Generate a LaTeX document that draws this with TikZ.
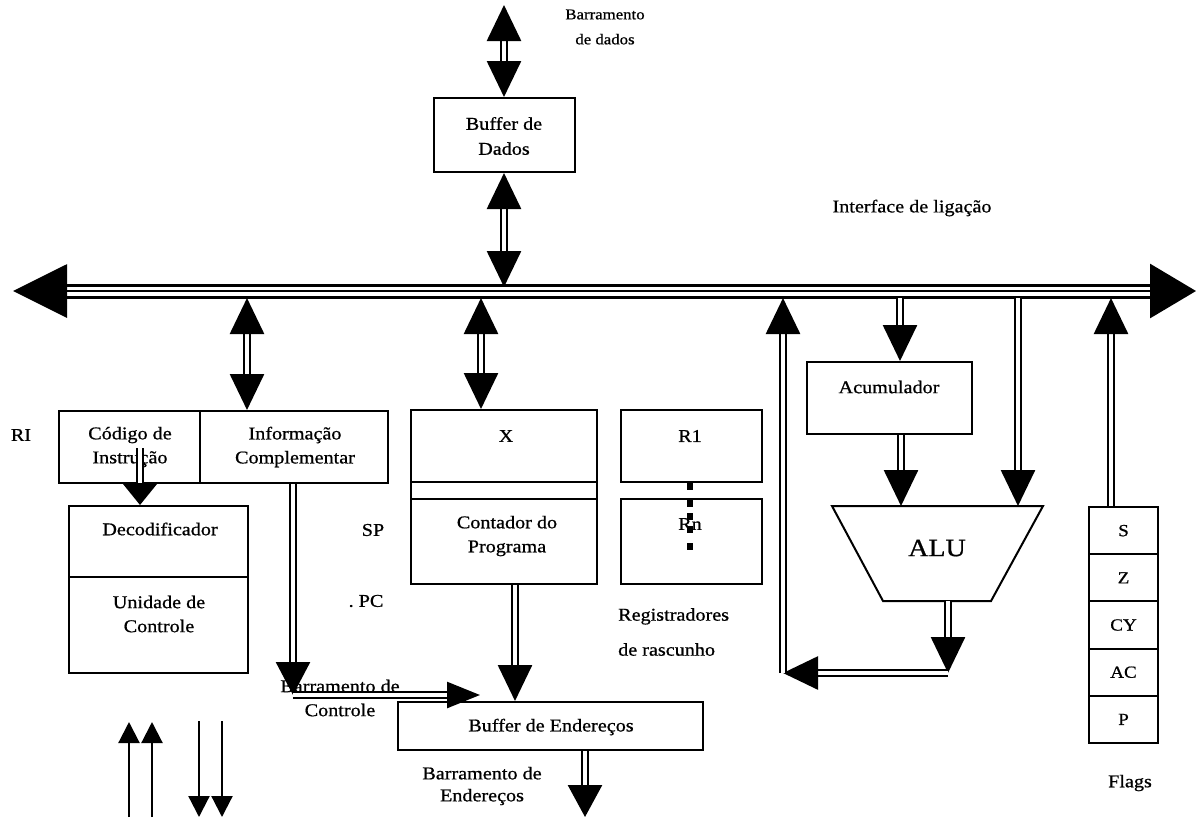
\documentclass[tikz,border=0pt]{standalone}
\usepackage{fontspec}
\setmainfont{Liberation Serif}[FakeStretch=1.12,FakeBold=0.8]
\usetikzlibrary{arrows.meta}
\begin{document}
\begin{tikzpicture}[x=1pt,y=-1pt,
  box/.style={draw,line width=2pt,inner sep=0pt},
  txt/.style={font=\fontsize{18}{24}\selectfont,align=center,inner sep=0pt},
  smtxt/.style={font=\fontsize{15}{25}\selectfont,align=center,inner sep=0pt},
  flagtxt/.style={font=\fontsize{17}{20}\selectfont},
  dl/.style={double,double distance=3.2pt,line width=2.6pt},
  bus/.style={double,double distance=9pt,line width=3pt},
  tipu/.style={-{Triangle[length=36pt,width=34pt]}},
  tipb/.style={{Triangle[length=36pt,width=34pt]}-{Triangle[length=36pt,width=34pt]}},
  thinarr/.style={line width=2.2pt,-{Triangle[length=21pt,width=21pt]}}
]
\fill[white] (0,0) rectangle (1198,820);
\useasboundingbox (0,0) rectangle (1198,820);

% ---------- bus ----------
\coordinate (busL) at (13,291);
\coordinate (busR) at (1196,291);
\draw[bus,{Triangle[length=54pt,width=53pt]}-{Triangle[length=46pt,width=54pt]}] (busL) -- (busR);
\draw[line width=2pt] (66,291) -- (1150,291);

\coordinate (tRI) at (247,298);
\coordinate (tX) at (481,298);
\coordinate (tBD) at (504,287);
\coordinate (tLoop) at (783,298);
\coordinate (tAcc) at (900,298);
\coordinate (tAlu) at (1018,298);
\coordinate (tFl) at (1111,298);

% ---------- boxes ----------
\node[box,minimum width=141,minimum height=74] (bdad) at (504,135) {};
\node[box,minimum width=141,minimum height=72] (cod) at (129.5,447) {};
\node[box,minimum width=188,minimum height=72] (inf) at (294,447) {};
\node[box,minimum width=179,minimum height=71] (dec) at (158.5,541.5) {};
\node[box,minimum width=179,minimum height=96] (uc) at (158.5,625) {};
\node[box,minimum width=186,minimum height=72] (xr) at (504,446) {};
\node[box,minimum width=186,minimum height=17] (xs) at (504,490.5) {};
\node[box,minimum width=186,minimum height=85] (pc) at (504,541.5) {};
\node[box,minimum width=141,minimum height=72] (r1) at (691.5,446) {};
\node[box,minimum width=141,minimum height=85] (rn) at (691.5,541.5) {};
\node[box,minimum width=165,minimum height=72] (acc) at (889.5,398) {};
\node[box,minimum width=305,minimum height=48] (bend) at (550.5,726) {};

\node[box,flagtxt,minimum width=69,minimum height=47.2] (fS) at (1123.5,530.6) {S};
\node[box,flagtxt,minimum width=69,minimum height=47.2] (fZ) at (1123.5,577.8) {Z};
\node[box,flagtxt,minimum width=69,minimum height=47.2] (fCY) at (1123.5,625) {CY};
\node[box,flagtxt,minimum width=69,minimum height=47.2] (fAC) at (1123.5,672.2) {AC};
\node[box,flagtxt,minimum width=69,minimum height=47.2] (fP) at (1123.5,719.4) {P};

% ALU
\draw[line width=2pt] (832,506) -- (1043,506) -- (991,601) -- (883,601) -- cycle;
\coordinate (aluA) at (901,506);
\coordinate (aluB) at (1018,506);
\coordinate (aluO) at (948,601);
\node[font=\fontsize{25}{30}\selectfont,inner sep=0pt] (alu) at (937,548) {ALU};

% register dots
\foreach \yy in {486,503,516,529,546}
  \fill (687,\yy-3.5) rectangle +(6,7);

% ---------- texts ----------
\node[smtxt] (lbd) at (605,27) {Barramento\\de dados};
\node[txt,font=\fontsize{18}{25}\selectfont] (tbd) at (504,136) {Buffer de\\Dados};
\node[txt] (lif) at (912,208) {Interface de ligação};
\node[txt] (lri) at (21,435) {RI};
\node[txt] (tcod) at (130,447) {Código de\\Instrução};
\node[txt] (tinf) at (295,447) {Informação\\Complementar};
\node[txt] (tdec) at (160,529) {Decodificador};
\node[txt] (tuc) at (159,614) {Unidade de\\Controle};
\node[txt] (lsp) at (373,530) {SP};
\node[txt] (lpc) at (366,601) {.\ PC};
\node[txt] (lctl) at (340,698) {Barramento de\\Controle};
\node[txt] (tx) at (506,436) {X};
\node[txt] (tpc) at (507,536) {Contador do\\Programa};
\node[txt] (tr1) at (690,436) {R1};
\node[txt] (trn) at (690,524) {Rn};
\node[txt,align=left,anchor=west,font=\fontsize{18}{35}\selectfont] (lreg) at (618,632) {Registradores\\de rascunho};
\node[txt,font=\fontsize{18}{22}\selectfont] (lend) at (482,786) {Barramento de\\Endereços};
\node[txt] (tacc) at (889,387) {Acumulador};
\node[txt] (tben) at (551,727) {Buffer de Endereços};
\node[txt] (lfl) at (1130,783) {Flags};

% ---------- connectors ----------
\coordinate (dtop) at (504,5);
\draw[dl,tipb] (dtop) -- (bdad.north);
\draw[dl,tipb] (bdad.south) -- (tBD);
\draw[dl,tipb] (tRI) -- (tRI |- inf.north);
\draw[dl,tipb] (tX) -- (tX |- xr.north);

\coordinate (codin) at (140,448);
\draw[dl,-{Triangle[length=22pt,width=35pt]}] (codin) -- (codin |- dec.north);

\coordinate (infx) at (293,0);
\coordinate (cbend) at (293,695);
\coordinate (ctl) at (480,695);
\draw[dl,-{Triangle[length=33pt,width=34pt]}] (inf.south -| infx) -- (cbend);
\draw[dl,-{Triangle[length=33pt,width=26pt]}] (cbend) -- (ctl);

\coordinate (pcx) at (515,0);
\draw[dl,tipu] (pc.south -| pcx) -- (bend.north -| pcx);
\coordinate (eout) at (585,817);
\draw[dl,-{Triangle[length=32pt,width=34pt]}] (bend.south -| eout) -- (eout);

\draw[dl,tipu] (tAcc) -- (tAcc |- acc.north);
\draw[dl,tipu] (acc.south -| aluA) -- (aluA);
\draw[dl,tipu] (tAlu) -- (aluB);

\coordinate (aluD) at (948,673);
\coordinate (loopC) at (783,673);
\draw[dl,tipu] (aluO) -- (aluD);
\draw[dl,-{Triangle[length=35pt,width=33pt]}] (aluD) -- (loopC);
\draw[dl,tipu] (loopC) -- (tLoop);
\draw[dl,tipu] (fS.north -| tFl) -- (tFl);

% bottom control arrows
\coordinate (u1a) at (129,817); \coordinate (u1b) at (129,722);
\coordinate (u2a) at (152,817); \coordinate (u2b) at (152,722);
\coordinate (d1a) at (199,721); \coordinate (d1b) at (199,817);
\coordinate (d2a) at (222,721); \coordinate (d2b) at (222,817);
\draw[thinarr] (u1a) -- (u1b);
\draw[thinarr] (u2a) -- (u2b);
\draw[thinarr] (d1a) -- (d1b);
\draw[thinarr] (d2a) -- (d2b);
\end{tikzpicture}
\end{document}
